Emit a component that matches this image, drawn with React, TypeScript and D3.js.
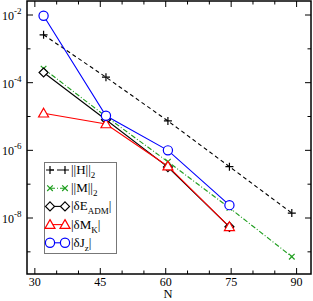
import React from "react";
import { scaleLinear, scaleLog, line } from "d3";

const N = [32, 46.3, 60.5, 74.6, 88.9];

const normH = [2.6e-3, 1.45e-4, 7.4e-6, 3.3e-7, 1.4e-8];
const normM = [2.6e-4, 1.0e-5, 4.6e-7, 2.0e-8, 7.2e-10];
const dEADM = [2.0e-4, 8.0e-6, 3.2e-7, 5.5e-9];
const dMK = [1.25e-5, 6.0e-6, 3.4e-7, 5.5e-9];
const dJz = [9.5e-3, 1.05e-5, 1.0e-6, 2.4e-8];

const xMajor = [30, 45, 60, 75, 90];
const xMinor = [35, 40, 50, 55, 65, 70, 80, 85];
const yMajorExp = [-2, -4, -6, -8];
const yMinorExp = [-3, -5, -7, -9];

const W = 313;
const H = 301;
const left = 27, right = 311, top = 1, bottom = 274;

const x = scaleLinear().domain([28.2, 93.3]).range([left, right]);
const y = scaleLog().domain([Math.pow(10, -9.655), Math.pow(10, -1.586)]).range([bottom, top]);

const GREEN = "#1f9e1f";

type Marker = "plus" | "cross" | "diamond" | "triangle" | "circle";

const MarkerShape = ({ kind, cx, cy, color }: { kind: Marker; cx: number; cy: number; color: string }) => {
  if (kind === "plus") {
    const s = 4;
    return <path d={`M${cx - s},${cy}H${cx + s}M${cx},${cy - s}V${cy + s}`} stroke={color} strokeWidth={1.2} fill="none" />;
  }
  if (kind === "cross") {
    const s = 2.8;
    return <path d={`M${cx - s},${cy - s}L${cx + s},${cy + s}M${cx - s},${cy + s}L${cx + s},${cy - s}`} stroke={color} strokeWidth={1.2} fill="none" />;
  }
  if (kind === "diamond") {
    const s = 4.5;
    return <path d={`M${cx},${cy - s}L${cx + s},${cy}L${cx},${cy + s}L${cx - s},${cy}Z`} stroke={color} strokeWidth={1.2} fill="white" />;
  }
  if (kind === "triangle") {
    const s = 5;
    return <path d={`M${cx},${cy - s}L${cx + s},${cy + s * 0.75}L${cx - s},${cy + s * 0.75}Z`} stroke={color} strokeWidth={1.2} fill="white" />;
  }
  return <circle cx={cx} cy={cy} r={4.6} stroke={color} strokeWidth={1.2} fill="white" />;
};

const series = [
  { vals: normH, color: "black", dash: "4,3", marker: "plus" as Marker },
  { vals: normM, color: GREEN, dash: "5,2,1,2", marker: "cross" as Marker },
  { vals: dEADM, color: "black", dash: undefined, marker: "diamond" as Marker },
  { vals: dMK, color: "red", dash: undefined, marker: "triangle" as Marker },
  { vals: dJz, color: "blue", dash: undefined, marker: "circle" as Marker },
];

const legendRows: { marker: Marker; color: string; label: React.ReactNode }[] = [
  { marker: "plus", color: "black", label: <>||H||<tspan dy={4} fontSize={9}>2</tspan></> },
  { marker: "cross", color: GREEN, label: <>||M||<tspan dy={4} fontSize={9}>2</tspan></> },
  { marker: "diamond", color: "black", label: <>|δE<tspan dy={4} fontSize={9}>ADM</tspan><tspan dy={-4}>|</tspan></> },
  { marker: "triangle", color: "red", label: <>|δM<tspan dy={4} fontSize={9}>K</tspan><tspan dy={-4}>|</tspan></> },
  { marker: "circle", color: "blue", label: <>|δJ<tspan dy={4} fontSize={9}>z</tspan><tspan dy={-4}>|</tspan></> },
];

export default function App() {
  const gen = line<number>().x((_, i) => x(N[i])).y((d) => y(d));
  const font = "'Liberation Serif', 'DejaVu Serif', serif";
  return (
    <svg width={W} height={H} style={{ position: "absolute", left: 0, top: 0 }} fontFamily={font}>
      <rect width={W} height={H} fill="white" />
      {/* ticks */}
      {xMajor.map((t) => (
        <g key={"xm" + t}>
          <line x1={x(t)} x2={x(t)} y1={bottom} y2={bottom - 6} stroke="black" />
          <line x1={x(t)} x2={x(t)} y1={top} y2={top + 6} stroke="black" />
          <text x={x(t)} y={bottom + 12} textAnchor="middle" fontSize={12}>{t}</text>
        </g>
      ))}
      {xMinor.map((t) => (
        <g key={"xn" + t}>
          <line x1={x(t)} x2={x(t)} y1={bottom} y2={bottom - 3.5} stroke="black" />
          <line x1={x(t)} x2={x(t)} y1={top} y2={top + 3.5} stroke="black" />
        </g>
      ))}
      {yMajorExp.map((e) => {
        const yy = y(Math.pow(10, e));
        return (
          <g key={"ym" + e}>
            <line x1={left} x2={left + 6} y1={yy} y2={yy} stroke="black" />
            <line x1={right} x2={right - 6} y1={yy} y2={yy} stroke="black" />
            <text x={2} y={yy + 5} fontSize={12}>10<tspan dy={-6} fontSize={9}>{e}</tspan></text>
          </g>
        );
      })}
      {yMinorExp.map((e) => {
        const yy = y(Math.pow(10, e));
        return (
          <g key={"yn" + e}>
            <line x1={left} x2={left + 3.5} y1={yy} y2={yy} stroke="black" />
            <line x1={right} x2={right - 3.5} y1={yy} y2={yy} stroke="black" />
          </g>
        );
      })}
      <text x={168} y={298} textAnchor="middle" fontSize={12.5}>N</text>
      {/* series */}
      {series.map((s, i) => (
        <path key={"l" + i} d={gen(s.vals) || ""} fill="none" stroke={s.color} strokeWidth={1.1} strokeDasharray={s.dash} />
      ))}
      {series.map((s, i) => (
        <g key={"m" + i}>
          {s.vals.map((v, j) => (
            <MarkerShape key={j} kind={s.marker} cx={x(N[j])} cy={y(v)} color={s.color} />
          ))}
        </g>
      ))}
      {/* frame */}
      <rect x={left} y={top} width={right - left} height={bottom - top} fill="none" stroke="black" strokeWidth={1.5} />
      {/* legend */}
      <rect x={44.5} y={162.5} width={72} height={91} fill="white" stroke="#777" strokeWidth={1} />
      {legendRows.map((r, i) => {
        const cy = 170 + i * 18.2;
        const dash = i === 0 ? "4,3" : i === 1 ? "5,2,1,2" : undefined;
        return (
          <g key={"lg" + i}>
            <line x1={50} x2={65} y1={cy} y2={cy} stroke={r.color} strokeWidth={1.1} strokeDasharray={dash} />
            <MarkerShape kind={r.marker} cx={50} cy={cy} color={r.color} />
            <MarkerShape kind={r.marker} cx={65} cy={cy} color={r.color} />
            <text x={71} y={cy + 4} fontSize={13}>{r.label}</text>
          </g>
        );
      })}
    </svg>
  );
}
